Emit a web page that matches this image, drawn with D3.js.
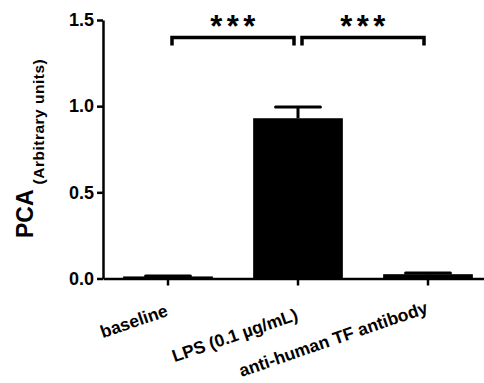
<!DOCTYPE html>
<html>
<head>
<script src="https://d3js.org/d3.v7.min.js"></script>
<style>
  body { margin: 0; background: #fff; }
  svg { display: block; font-family: "Liberation Sans", Arial, sans-serif; }
</style>
</head>
<body>
<svg id="chart"></svg>
<script>
const width = 484, height = 383;

// data
const categories = ["baseline", "LPS (0.1 \u00b5g/mL)", "anti-human TF antibody"];
const values = [0.012, 0.93, 0.025];
const errors = [0.003, 0.065, 0.007];
const yTicks = [0, 0.5, 1.0, 1.5];
const comparisons = [[0, 1, "***"], [1, 2, "***"]];

const svg = d3.select("#chart").attr("width", width).attr("height", height);

const x = d3.scaleBand().domain(categories).range([103, 493]).paddingInner(0.31).paddingOuter(0.155);
const y = d3.scaleLinear().domain([0, 1.5]).range([278.5, 20]);

// bars
svg.selectAll("rect.bar")
  .data(categories)
  .join("rect")
  .attr("class", "bar")
  .attr("x", d => x(d))
  .attr("width", x.bandwidth())
  .attr("y", (d, i) => y(values[i]))
  .attr("height", (d, i) => y(0) - y(values[i]))
  .attr("fill", "#000");

// error bars
const capW = x.bandwidth() / 2;
categories.forEach((c, i) => {
  const cx = x(c) + x.bandwidth() / 2;
  const top = y(values[i] + errors[i]);
  svg.append("line")
    .attr("x1", cx).attr("x2", cx)
    .attr("y1", y(values[i])).attr("y2", top)
    .attr("stroke", "#000").attr("stroke-width", 3);
  svg.append("line")
    .attr("x1", cx - capW / 2).attr("x2", cx + capW / 2)
    .attr("y1", top).attr("y2", top)
    .attr("stroke", "#000").attr("stroke-width", 3).attr("stroke-linecap", "round");
});

// y axis
const yAxis = svg.append("g")
  .attr("transform", "translate(103,0)")
  .call(d3.axisLeft(y).tickValues(yTicks).tickFormat(d3.format(".1f")).tickSize(6).tickSizeOuter(0).tickPadding(3));
yAxis.select(".domain").attr("stroke-width", 2.5);
yAxis.selectAll(".tick line").attr("stroke-width", 2.5);
yAxis.selectAll("text").attr("font-size", 18).attr("font-weight", "bold").attr("fill", "#000")
  .attr("font-family", "Liberation Sans, Arial, sans-serif");

// x axis
const xAxis = svg.append("g")
  .attr("transform", `translate(0,${y(0)})`)
  .call(d3.axisBottom(x).tickSize(7).tickSizeOuter(0).tickFormat(""));
xAxis.select(".domain").attr("stroke-width", 2.5);
xAxis.selectAll(".tick line").attr("stroke-width", 2.5);

const labelDy = [37, 41, 34];
svg.selectAll("text.xlab")
  .data(categories)
  .join("text")
  .attr("class", "xlab")
  .attr("transform", (d, i) => `translate(${x(d) + x.bandwidth() / 2 + 1},${y(0) + labelDy[i]}) rotate(-19)`)
  .attr("text-anchor", "end")
  .attr("font-size", 17.5)
  .attr("font-weight", "bold")
  .text(d => d);

// y label
const ylab = svg.append("text")
  .attr("transform", "translate(33,238) rotate(-90)")
  .attr("text-anchor", "start")
  .attr("font-weight", "bold");
ylab.append("tspan").attr("font-size", 23).text("PCA");
ylab.append("tspan").attr("font-size", 15.5).attr("dx", 5).attr("dy", 11)
  .attr("letter-spacing", 0.5).text("(Arbitrary units)");

// significance brackets
const brY = 37.5;
comparisons.forEach(([a, b, label]) => {
  const x1 = x(categories[a]) + x.bandwidth() / 2 + 4;
  const x2 = x(categories[b]) + x.bandwidth() / 2 - 4;
  svg.append("path")
    .attr("d", `M${x1},${brY + 8}V${brY}H${x2}V${brY + 8}`)
    .attr("fill", "none").attr("stroke", "#000").attr("stroke-width", 3.5);
  svg.append("text")
    .attr("x", (x1 + x2) / 2 + 2)
    .attr("y", brY - 1)
    .attr("text-anchor", "middle")
    .attr("font-size", 31)
    .attr("font-weight", "bold")
    .attr("letter-spacing", 4.5)
    .text(label);
});
</script>
</body>
</html>
